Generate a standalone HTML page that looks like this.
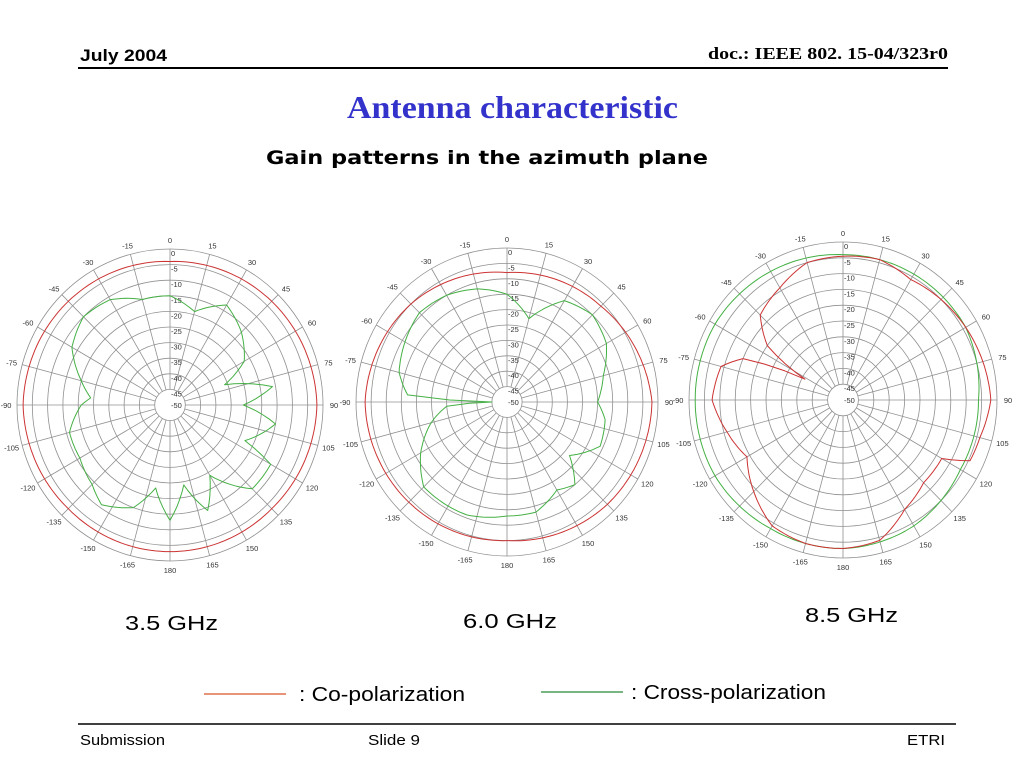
<!DOCTYPE html>
<html><head><meta charset="utf-8"><style>
html,body{margin:0;padding:0;background:#fff;}
svg{display:block;}
</style></head><body>
<svg id="slide" width="1024" height="768" viewBox="0 0 1024 768" xmlns="http://www.w3.org/2000/svg" font-family="'Liberation Sans', sans-serif">
<text x="80" y="61" font-size="17" font-weight="bold" textLength="87" lengthAdjust="spacingAndGlyphs">July 2004</text>
<text x="948" y="59" font-family="'Liberation Serif', serif" font-size="17" font-weight="bold" text-anchor="end" textLength="240" lengthAdjust="spacingAndGlyphs">doc.: IEEE 802. 15-04/323r0</text>
<line x1="78" y1="68" x2="948" y2="68" stroke="#000" stroke-width="2"/>
<text x="347" y="118" font-family="'Liberation Serif', serif" font-size="32" font-weight="bold" fill="#3333cc" textLength="331" lengthAdjust="spacingAndGlyphs">Antenna characteristic</text>
<text x="266" y="164" font-family="'DejaVu Sans', sans-serif" font-size="19" font-weight="bold" textLength="442" lengthAdjust="spacingAndGlyphs">Gain patterns in the azimuth plane</text>
<g id="charts"></g>
<text x="125" y="630" font-size="20" textLength="93" lengthAdjust="spacingAndGlyphs">3.5 GHz</text>
<text x="463" y="628" font-size="20" textLength="94" lengthAdjust="spacingAndGlyphs">6.0 GHz</text>
<text x="805" y="622" font-size="20" textLength="93" lengthAdjust="spacingAndGlyphs">8.5 GHz</text>
<line x1="204" y1="694" x2="286" y2="694" stroke="#d9552a" stroke-width="1.3"/>
<text x="299" y="701" font-size="20" textLength="166" lengthAdjust="spacingAndGlyphs">: Co-polarization</text>
<line x1="541" y1="692" x2="623" y2="692" stroke="#2a8a3a" stroke-width="1.3"/>
<text x="631" y="699" font-size="20" textLength="195" lengthAdjust="spacingAndGlyphs">: Cross-polarization</text>
<line x1="78" y1="724" x2="956" y2="724" stroke="#000" stroke-width="1.5"/>
<text x="80" y="745" font-size="15" textLength="85" lengthAdjust="spacingAndGlyphs">Submission</text>
<text x="368" y="745" font-size="15" textLength="52" lengthAdjust="spacingAndGlyphs">Slide 9</text>
<text x="945" y="745" font-size="15" text-anchor="end" textLength="38" lengthAdjust="spacingAndGlyphs">ETRI</text>
</svg>
<script>
// Chart 1: 3.5 GHz
const c1CoAngles = [0,45,90,135,180,225,270,315];
const c1CoGain = [-4,-3,-2,-3,-3,-3,-2,-3];
const c1XAngles = [0,15,30,45,60,70,80,90,100,115,120,135,150,160,170,180,190,200,215,225,240,255,270,275,285,300,315,330,345];
const c1XGain = [-15,-19,-13,-17,-22,-31,-16,-26,-15,-23,-12,-12,-24,-14,-24,-13,-23,-15,-11,-14,-16,-16,-21,-24,-20,-13,-10,-11,-15];
// Chart 2: 6.0 GHz
const c2CoAngles = [0,45,90,135,180,225,270,315];
const c2CoGain = [-8,-6,-2,-3,-5,-4,-3,-5];
const c2XAngles = [0,15,30,45,60,75,90,100,115,130,140,150,165,180,200,225,240,255,266,270,274,285,300,315,330,345];
const c2XGain = [-15,-22,-12,-10,-12,-17,-20,-17,-16,-23,-15,-17,-13,-13,-11,-11,-17,-24,-30,-45,-17,-13,-11,-9,-10,-12];
// Chart 3: 8.5 GHz
const c3CoAngles = [0,15,30,45,60,75,90,105,115,120,135,150,165,180,195,210,225,240,255,270,285,292,298,305,315,330,345];
const c3CoGain = [-4.5,-4,-6,-5,-4,-3,-2,-4,-4.5,-13,-13,-10,-4,-3,-3,-4,-9,-14,-11,-7.5,-9,-15,-36,-20,-12,-9,-5];
const c3XAngles = [0,30,60,90,120,150,180,210,240,270,300,330];
const c3XGain = [-4,-4,-4,-6,-6,-4,-3,-3,-2,-2,-2,-3];
const angleTicks = ['0','15','30','45','60','75','90','105','120','135','150','165','180','-165','-150','-135','-120','-105','-90','-75','-60','-45','-30','-15'];
const ringTicks = ['0','-5','-10','-15','-20','-25','-30','-35','-40','-45','-50'];

const NS='http://www.w3.org/2000/svg';
const root=document.getElementById('charts');
function mk(tag,attrs,parent){const e=document.createElementNS(NS,tag);for(const k in attrs)e.setAttribute(k,attrs[k]);parent.appendChild(e);return e;}

function drawPolar(id,cx,cy,rx,ry,coA,coG,xA,xG){
  const g=document.createElementNS(NS,'g');
  
  
  root.appendChild(g);
  const rScale=db=>Math.max(0,(db+50)/50);
  const pt=(ang,db)=>{const a=ang*Math.PI/180,f=rScale(db);return [cx+rx*f*Math.sin(a),cy-ry*f*Math.cos(a)];};
  for(let i=0;i<=10;i++){
    const f=(50-i*5)/50;
    if(f<=0)continue;
    const c=mk('ellipse',{cx:cx,cy:cy,rx:rx*f,ry:ry*f,fill:'none',stroke:'#909090','stroke-width':0.8},g);
    
    
  }
  for(let i=0;i<24;i++){
    const a=i*15;
    const p1=pt(a,-45),p2=pt(a,0);
    const l=mk('line',{x1:p1[0],y1:p1[1],x2:p2[0],y2:p2[1],stroke:'#909090','stroke-width':0.8},g);
    
    
    const ar=a*Math.PI/180;
    const t=mk('text',{x:cx+(rx+11)*Math.sin(ar),y:cy-(ry+9)*Math.cos(ar)+3,'font-size':7.5,'text-anchor':'middle',fill:'#333'},g);
    t.textContent=angleTicks[i];
    
    
  }
  ringTicks.forEach((lab,i)=>{
    const db=-i*5;
    const p=pt(0,db);
    const t=mk('text',{x:p[0]+1,y:p[1]+(i===10?3:7),'font-size':7.5,fill:'#333'},g);
    t.textContent=lab;
    
    
  });
  function series(A,G,color,name){
    let d='';
    const n=A.length;
    let first=true;
    for(let i=0;i<n;i++){
      const a0=A[i],g0=G[i];
      let a1=A[(i+1)%n],g1=G[(i+1)%n];
      if(a1<=a0)a1+=360;
      const steps=Math.max(1,Math.ceil((a1-a0)/2));
      for(let s=0;s<steps;s++){
        const t=s/steps;
        const p=pt(a0+(a1-a0)*t,g0+(g1-g0)*t);
        d+=(first?'M':'L')+p[0].toFixed(1)+','+p[1].toFixed(1);
        first=false;
      }
    }
    d+='Z';
    const p=mk('path',{d:d,fill:'none',stroke:color,'stroke-width':1,'stroke-linejoin':'round'},g);
    
    
  }
  series(xA,xG,'#44b044','cross-pol-line');
  series(coA,coG,'#cc3333','co-pol-line');
}
drawPolar('3-5ghz',170,405,153,156,c1CoAngles,c1CoGain,c1XAngles,c1XGain);
drawPolar('6-0ghz',507,402,151,154,c2CoAngles,c2CoGain,c2XAngles,c2XGain);
drawPolar('8-5ghz',843,400,154,158,c3CoAngles,c3CoGain,c3XAngles,c3XGain);
</script>
</body></html>
